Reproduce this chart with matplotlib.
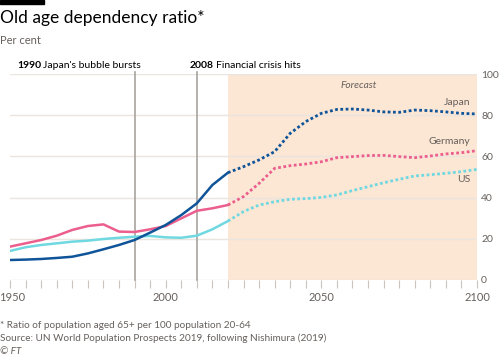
import numpy as np
import matplotlib
matplotlib.use("Agg")
import matplotlib.pyplot as plt
from matplotlib.transforms import ScaledTranslation

# Datos (cada 5 anos)
anios_hist = list(range(1950, 2021, 5))
anios_prev = list(range(2020, 2101, 5))

japon_hist = [9.7, 9.9, 10.2, 10.7, 11.3, 12.9, 14.9, 17.0, 19.4, 23.0, 26.7, 31.5, 37.2, 46.1, 52.1]
japon_prev = [52.1, 55.0, 58.3, 62.3, 71.2, 76.9, 80.9, 82.8, 83.0, 82.5, 81.6, 81.4, 82.5, 82.2, 81.6, 80.9, 80.6]

alemania_hist = [16.2, 17.8, 19.4, 21.5, 24.3, 26.2, 27.0, 23.5, 23.3, 24.6, 26.2, 29.9, 33.6, 34.8, 36.4]
alemania_prev = [36.4, 40.5, 46.9, 54.2, 55.5, 56.3, 57.4, 59.4, 59.9, 60.4, 60.5, 59.9, 59.4, 60.2, 61.2, 61.8, 62.8]

eeuu_hist = [14.1, 15.9, 17.0, 17.8, 18.6, 19.1, 19.9, 20.5, 21.0, 21.4, 20.7, 20.5, 21.5, 24.6, 28.6]
eeuu_prev = [28.6, 33.2, 36.4, 38.0, 39.2, 39.5, 40.1, 41.3, 43.4, 45.3, 47.2, 48.9, 50.5, 51.1, 51.8, 52.6, 53.7]

anios_eventos = [1990, 2010]
ticks_y = [0, 20, 40, 60, 80, 100]
ticks_x = [1950, 2000, 2050, 2100]

AZUL = "#0f5499"
ROSA = "#eb5e8d"
CIAN = "#6fd8e0"
GRIS = "#66605c"
FONDO_PREV = "#fce6d4"
REJILLA = "#ebe5df"

plt.rcParams["font.family"] = ["Lato", "DejaVu Sans"]

fig = plt.figure(figsize=(5, 3.57), dpi=100)
fig.patch.set_facecolor("white")
ax = fig.add_axes([0.02, 0.2157, 0.934, 0.577])

ax.set_xlim(1950, 2100)
ax.set_ylim(0, 100)

# Zona de prevision
ax.axvspan(2020, 2100, color=FONDO_PREV, lw=0, zorder=0)
ax.text(2062, 94.5, "Forecast", style="italic", color=GRIS, fontsize=7.3, ha="center", va="center")

for y in ticks_y:
    ax.axhline(y, color=REJILLA, lw=1, zorder=1)

# Lineas de eventos
for x in anios_eventos:
    ax.plot([x, x], [0, 101], color="#a8a4a0", lw=1.2, zorder=2, clip_on=False)

punteado = (0, (1.0, 0.9))
for hist, prev, color in [(eeuu_hist, eeuu_prev, CIAN), (alemania_hist, alemania_prev, ROSA), (japon_hist, japon_prev, AZUL)]:
    ax.plot(anios_hist, hist, color=color, lw=1.8, zorder=3, solid_capstyle="round")
    ax.plot(anios_prev, prev, color=color, lw=2.0, ls=punteado, zorder=3)

ax.text(2097.8, 86, "Japan", color=GRIS, fontsize=7.5, ha="right", va="center")
ax.text(2097.8, 67, "Germany", color=GRIS, fontsize=7.5, ha="right", va="center")
ax.text(2097.8, 49, "US", color=GRIS, fontsize=7.5, ha="right", va="center")

for spine in ax.spines.values():
    spine.set_visible(False)

ax.yaxis.tick_right()
ax.set_yticks(ticks_y)
ax.tick_params(axis="y", length=0, pad=3, labelsize=7.5, labelcolor=GRIS)
ax.set_xticks(ticks_x)
ax.set_xticks(range(1950, 2101, 5), minor=True)
ax.tick_params(axis="x", which="both", length=6, width=0.8, color="#ccc4bc", direction="out", labelsize=8, labelcolor=GRIS, pad=3)

# Primera etiqueta un poco a la derecha para que no se corte
primera = ax.get_xticklabels()[0]
primera.set_transform(primera.get_transform() + ScaledTranslation(2 / 100, 0, fig.dpi_scale_trans))

# Textos
fig.patches.append(plt.Rectangle((0, 1 - 4 / 357), 44 / 500, 4 / 357, transform=fig.transFigure, color="black"))
fig.text(0.0, 1 - 18 / 357, "Old age dependency ratio*", fontsize=12.5, color="#000000", va="center")
fig.text(0.0, 1 - 41 / 357, "Per cent", fontsize=8, color=GRIS, va="center")

fig.text(17 / 500, 1 - 65 / 357, "1990", fontsize=7.5, fontweight="bold", color="#000000", va="center")
fig.text(43 / 500, 1 - 65 / 357, "Japan's bubble bursts", fontsize=7.5, color="#000000", va="center")
fig.text(190 / 500, 1 - 65 / 357, "2008", fontsize=7.5, fontweight="bold", color="#000000", va="center")
fig.text(216 / 500, 1 - 65 / 357, "Financial crisis hits", fontsize=7.5, color="#000000", va="center")

fig.text(0.0, 1 - 325 / 357, "* Ratio of population aged 65+ per 100 population 20-64", fontsize=7.2, color=GRIS, va="center")
fig.text(0.0, 1 - 338 / 357, "Source: UN World Population Prospects 2019, following Nishimura (2019)", fontsize=7.2, color=GRIS, va="center")
fig.text(0.0, 1 - 351 / 357, "© FT", fontsize=7.2, color=GRIS, va="center", style="italic")

fig.savefig("out.png", dpi=100)
